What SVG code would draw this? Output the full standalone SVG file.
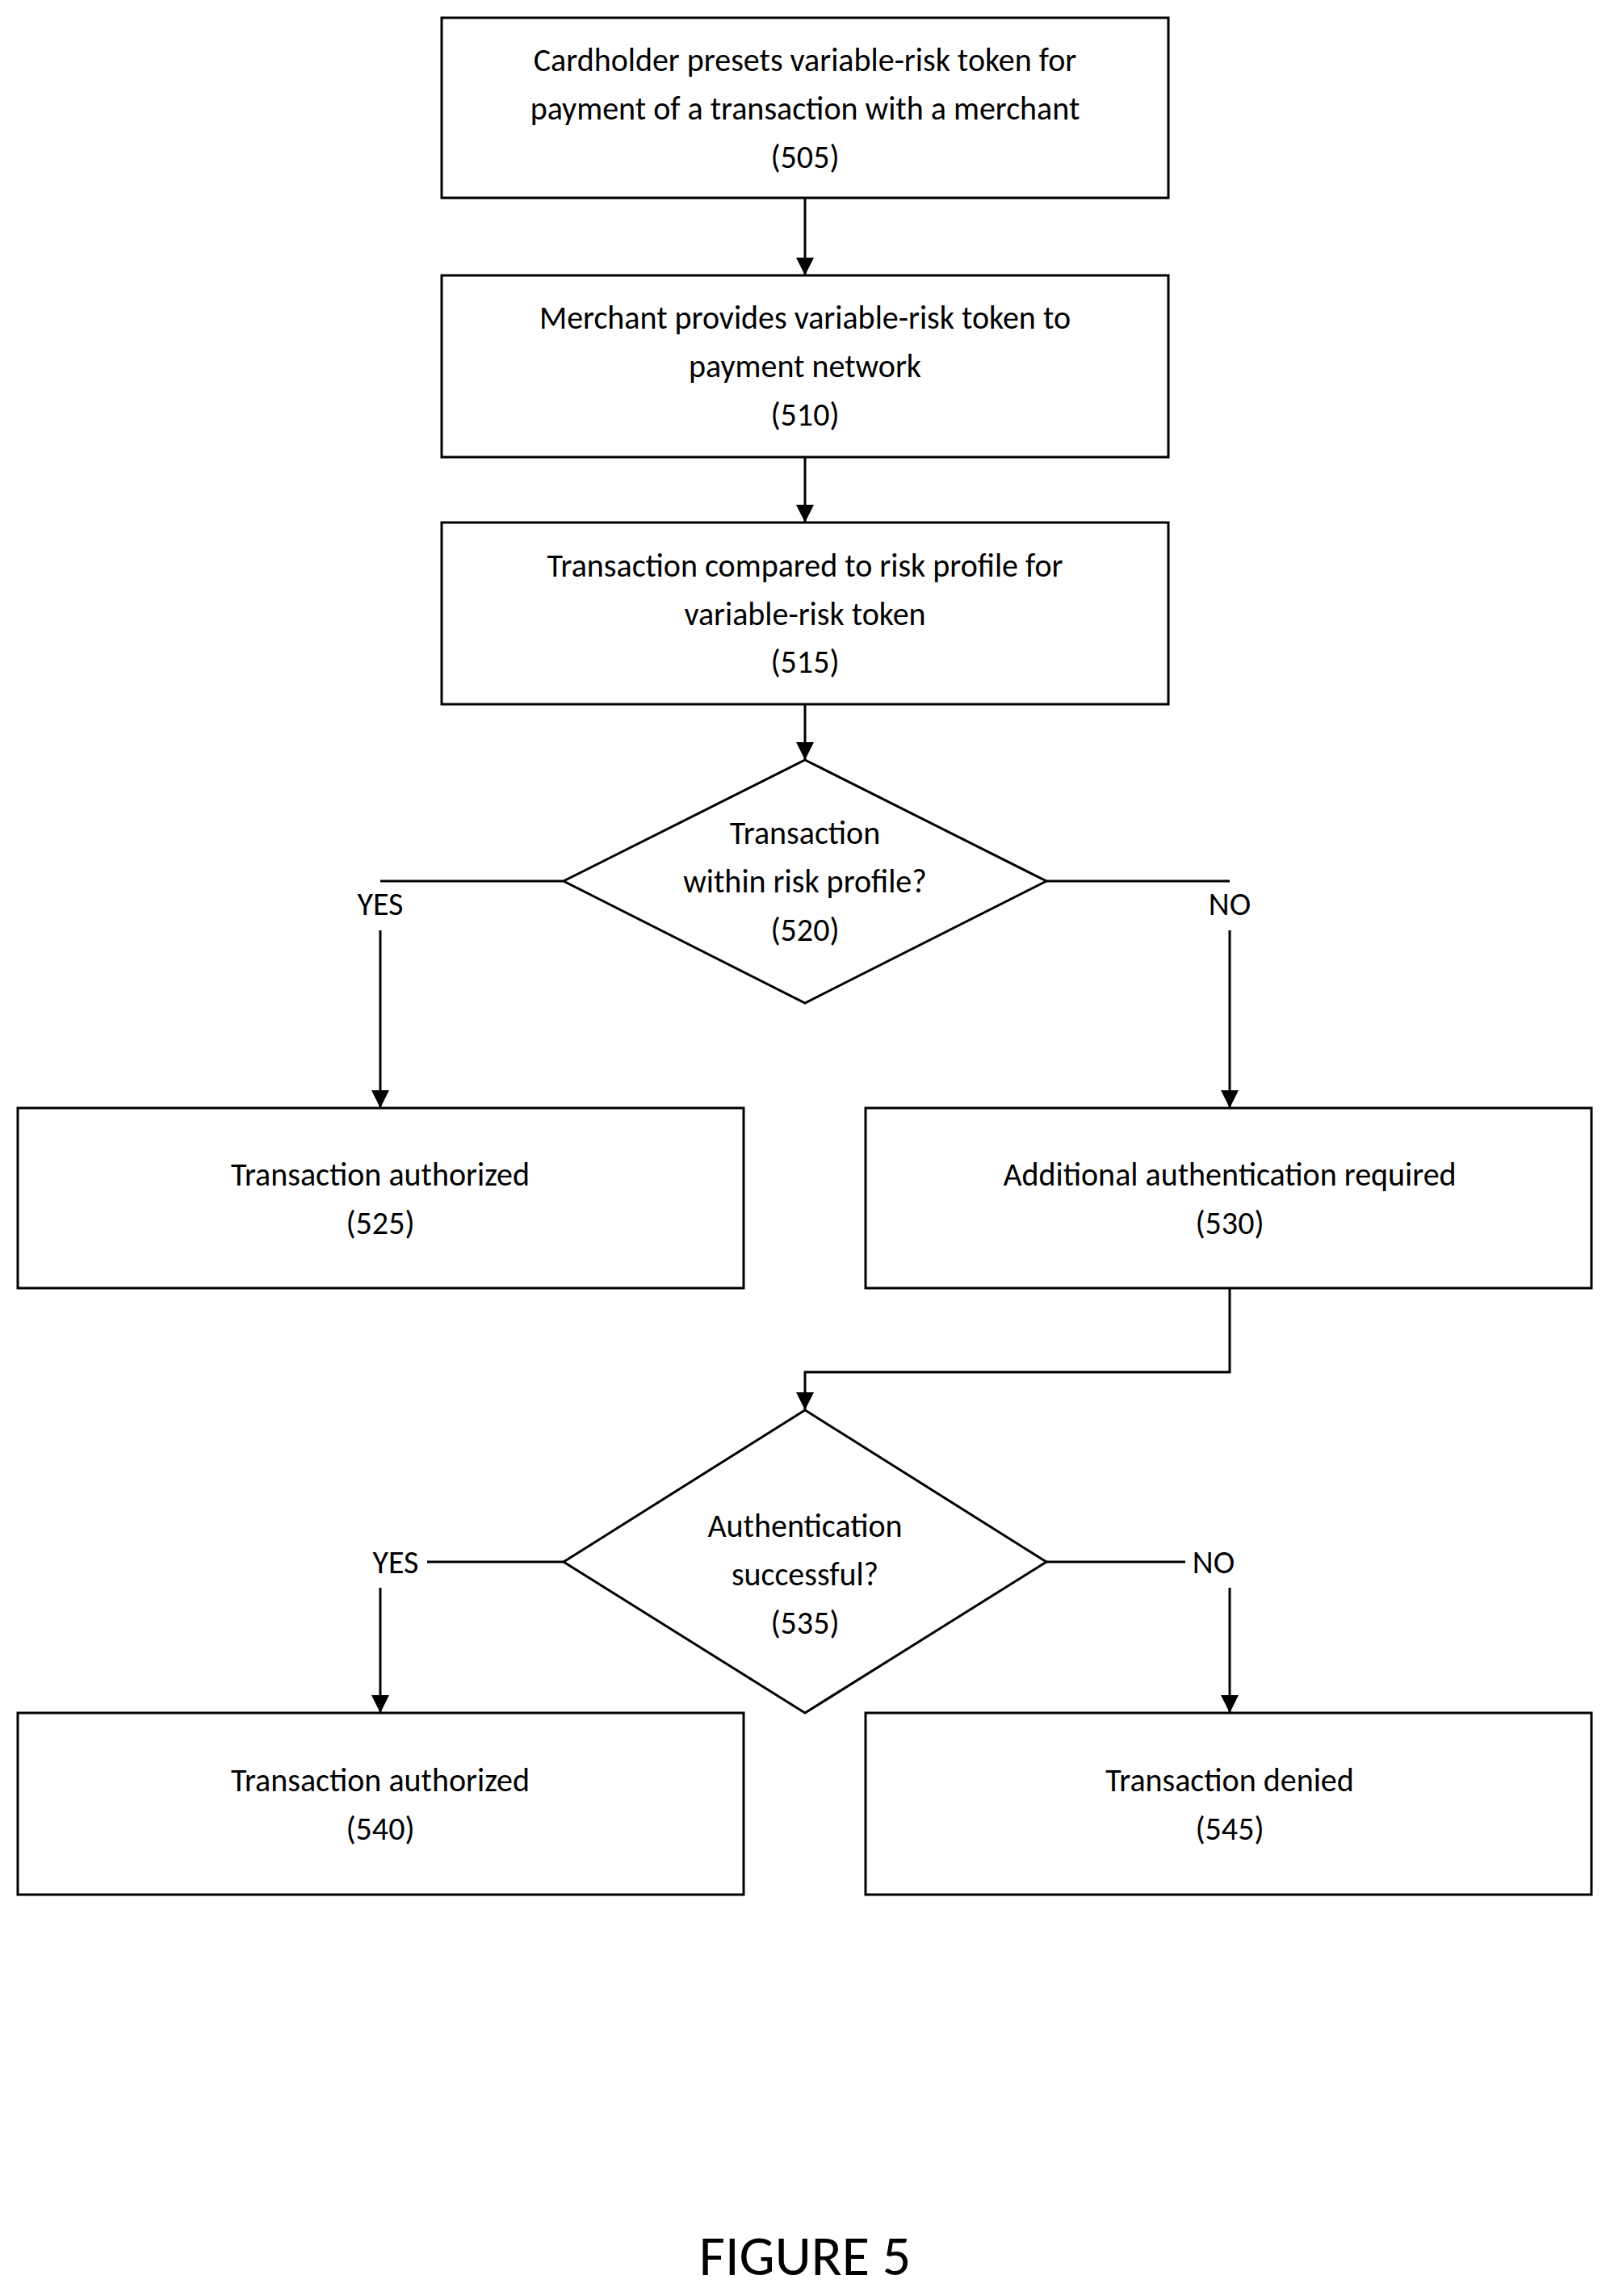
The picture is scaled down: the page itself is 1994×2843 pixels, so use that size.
<svg xmlns="http://www.w3.org/2000/svg" width="1994" height="2843" viewBox="0 0 1994 2843">
<style>
.b{fill:#fff;stroke:#000;stroke-width:3}
.t{font-family:Carlito,"Liberation Sans",sans-serif;font-size:40px;text-anchor:middle;fill:#000}
.c{fill:none;stroke:#000;stroke-width:3}
</style>
<defs><marker id="a" markerWidth="10" markerHeight="10" refX="10" refY="5" orient="auto" markerUnits="userSpaceOnUse" viewBox="0 0 10 10"><path d="M0,0 L10,5 L0,10 z" fill="#000"/></marker>
<marker id="ar" viewBox="0 0 10 10" refX="10" refY="5" markerWidth="22" markerHeight="22" orient="auto" markerUnits="userSpaceOnUse"><path d="M0,0 L10,5 L0,10 z"/></marker></defs>
<rect width="1994" height="2843" fill="#fff"/>
<g id="n505"><rect class="b" x="547" y="22" width="900" height="223"/><text class="t" x="997" y="88">Cardholder presets variable-risk token for</text><text class="t" x="997" y="148">payment of a transaction with a merchant</text><text class="t" x="997" y="208">(505)</text></g>
<g id="n510"><rect class="b" x="547" y="341" width="900" height="225"/><text class="t" x="997" y="407">Merchant provides variable-risk token to</text><text class="t" x="997" y="467">payment network</text><text class="t" x="997" y="527">(510)</text></g>
<g id="n515"><rect class="b" x="547" y="647" width="900" height="225"/><text class="t" x="997" y="714">Transaction compared to risk profile for</text><text class="t" x="997" y="774">variable-risk token</text><text class="t" x="997" y="833">(515)</text></g>
<g id="n520"><polygon class="b" points="997,941 1296,1091 997,1242 698,1091"/><text class="t" x="997" y="1045">Transaction</text><text class="t" x="997" y="1105">within risk profile?</text><text class="t" x="997" y="1165">(520)</text></g>
<g id="n525"><rect class="b" x="22" y="1372" width="899" height="223"/><text class="t" x="471" y="1468">Transaction authorized</text><text class="t" x="471" y="1528">(525)</text></g>
<g id="n530"><rect class="b" x="1072" y="1372" width="899" height="223"/><text class="t" x="1523" y="1468">Additional authentication required</text><text class="t" x="1523" y="1528">(530)</text></g>
<g id="n535"><polygon class="b" points="997,1746 1296,1934 997,2121 698,1934"/><text class="t" x="997" y="1903">Authentication</text><text class="t" x="997" y="1963">successful?</text><text class="t" x="997" y="2023">(535)</text></g>
<g id="n540"><rect class="b" x="22" y="2121" width="899" height="225"/><text class="t" x="471" y="2218">Transaction authorized</text><text class="t" x="471" y="2278">(540)</text></g>
<g id="n545"><rect class="b" x="1072" y="2121" width="899" height="225"/><text class="t" x="1523" y="2218">Transaction denied</text><text class="t" x="1523" y="2278">(545)</text></g>
<g id="connectors">
<path class="c" d="M997,245 V341" marker-end="url(#ar)"/>
<path class="c" d="M997,566 V647" marker-end="url(#ar)"/>
<path class="c" d="M997,872 V941" marker-end="url(#ar)"/>
<path class="c" d="M698,1091 H471"/>
<path class="c" d="M471,1152 V1372" marker-end="url(#ar)"/>
<path class="c" d="M1296,1091 H1523"/>
<path class="c" d="M1523,1152 V1372" marker-end="url(#ar)"/>
<path class="c" d="M1523,1595 V1699 H997 V1746" marker-end="url(#ar)"/>
<path class="c" d="M698,1934 H529"/>
<path class="c" d="M471,1966 V2121" marker-end="url(#ar)"/>
<path class="c" d="M1296,1934 H1468"/>
<path class="c" d="M1523,1966 V2121" marker-end="url(#ar)"/>
<text class="t" x="471" y="1133">YES</text>
<text class="t" x="1523" y="1133">NO</text>
<text class="t" x="490" y="1948">YES</text>
<text class="t" x="1503" y="1948">NO</text>
</g>
<text class="t" x="997" y="2817" style="font-size:70px">FIGURE 5</text>
</svg>
